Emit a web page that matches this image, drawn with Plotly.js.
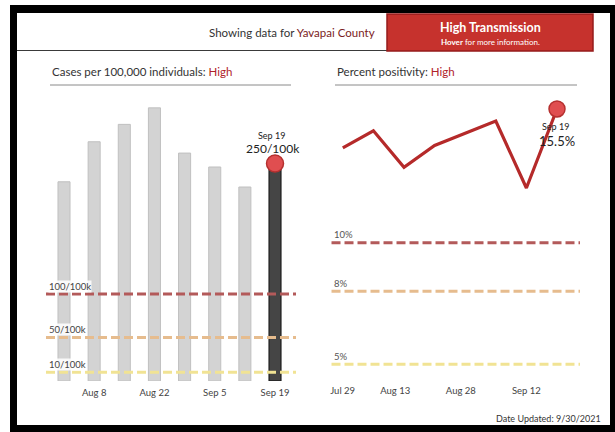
<!DOCTYPE html>
<html>
<head>
<meta charset="utf-8">
<script src="https://cdn.plot.ly/plotly-3.0.1.min.js"></script>
<style>
  html, body { margin: 0; padding: 0; background: #fff; }
  #chart { width: 615px; height: 432px; }
</style>
</head>
<body>
<div id="chart"></div>
<script>
// ---------------- DATA ----------------
const countyName = 'Yavapai County';
const transmissionLevel = 'High Transmission';
const weeks = ['2021-08-01', '2021-08-08', '2021-08-15', '2021-08-22', '2021-08-29', '2021-09-05', '2021-09-12', '2021-09-19'];
const caseRates = [229, 275, 295, 314, 262, 246, 223, 250];
const positivity = [13.9, 14.6, 13.1, 14.0, 14.5, 15.0, 12.25, 15.5];
const caseTickVals = ['2021-08-08', '2021-08-22', '2021-09-05', '2021-09-19'];
const caseTickText = ['Aug 8', 'Aug 22', 'Sep 5', 'Sep 19'];
const posTickVals = ['2021-07-29', '2021-08-13', '2021-08-28', '2021-09-12'];
const posTickText = ['Jul 29', 'Aug 13', 'Aug 28', 'Sep 12'];
const caseThresholds = [100, 50, 10];
const caseThresholdLabels = ['100/100k', '50/100k', '10/100k'];
const posThresholds = [10, 8, 5];
const posThresholdLabels = ['10%', '8%', '5%'];
const lastLabel = 'Sep 19';
const dateUpdated = 'Date Updated: 9/30/2021';

// ---------------- STYLE ----------------
const W = 615, H = 432;
const px = x => x / W;
const py = y => 1 - y / H;
const FONT = 'Lato, "Noto Sans", sans-serif';
const thresholdColors = ['#b35a5a', '#e6bc8e', '#f1e394'];
const DAY = 86400000;

const n = weeks.length;
const barColors = weeks.map((_, i) => i === n - 1 ? '#454545' : '#d3d3d3');
const barLines = weeks.map((_, i) => i === n - 1 ? '#111111' : '#c0c0c0');

const traces = [
  {
    type: 'bar', x: weeks, y: caseRates, xaxis: 'x', yaxis: 'y',
    width: 2.8 * DAY,
    marker: { color: barColors, line: { color: barLines, width: 1 } },
    hoverinfo: 'skip'
  },
  {
    type: 'scatter', mode: 'markers', x: [weeks[n - 1]], y: [caseRates[n - 1]], xaxis: 'x', yaxis: 'y',
    marker: { size: 17, color: '#e04e50', line: { color: '#b5302f', width: 1.5 } },
    hoverinfo: 'skip'
  },
  {
    type: 'scatter', mode: 'lines', x: weeks, y: positivity, xaxis: 'x2', yaxis: 'y2',
    line: { color: '#b52a2a', width: 3.2 },
    hoverinfo: 'skip'
  },
  {
    type: 'scatter', mode: 'markers', x: [weeks[n - 1]], y: [positivity[n - 1]], xaxis: 'x2', yaxis: 'y2',
    marker: { size: 16, color: '#e04e50', line: { color: '#b5302f', width: 1.5 } },
    hoverinfo: 'skip'
  },
  {
    // carrier for the overlay axis holding the (edge-shifted) first positivity tick label
    type: 'scatter', mode: 'markers', x: [posTickVals[0]], y: [null], xaxis: 'x3', yaxis: 'y2',
    marker: { opacity: 0 }, hoverinfo: 'skip'
  }
];

const shapes = [];
const annotations = [];

// frame
const rect = (x0, y0, x1, y1, fill, line, lw) => shapes.push({
  type: 'rect', xref: 'paper', yref: 'paper', x0: px(x0), x1: px(x1), y0: py(y1), y1: py(y0),
  fillcolor: fill, line: { color: line || fill, width: lw || 0 }, layer: 'above'
});
rect(10, 5, 615, 13, '#000');
rect(10, 5, 17, 432, '#000');
rect(610, 5, 615, 432, '#000');
rect(10, 425, 615, 432, '#000');
// header separator
shapes.push({ type: 'line', xref: 'paper', yref: 'paper', x0: px(17), x1: px(387), y0: py(50.5), y1: py(50.5), line: { color: '#3a3a3a', width: 1 } });
// red box
rect(387, 14, 593, 51, '#c6322d', '#951b1b', 1.5);
// title underlines
shapes.push({ type: 'line', xref: 'paper', yref: 'paper', x0: px(50), x1: px(291), y0: py(85), y1: py(85), line: { color: '#8a8a8a', width: 1 } });
shapes.push({ type: 'line', xref: 'paper', yref: 'paper', x0: px(335), x1: px(577), y0: py(85), y1: py(85), line: { color: '#8a8a8a', width: 1 } });

// threshold lines
caseThresholds.forEach((v, i) => {
  shapes.push({ type: 'line', xref: 'x domain', yref: 'y', x0: 0, x1: 1, y0: v, y1: v,
    line: { color: thresholdColors[i], width: 3, dash: '9px,4px' }, layer: 'above' });
  annotations.push({ xref: 'paper', yref: 'y', x: px(48), y: v, yshift: 8, xanchor: 'left', yanchor: 'middle',
    text: caseThresholdLabels[i], showarrow: false, bgcolor: 'rgba(255,255,255,0.85)', borderpad: 0,
    font: { family: FONT, size: 9.5, color: '#444' } });
});
posThresholds.forEach((v, i) => {
  shapes.push({ type: 'line', xref: 'x2 domain', yref: 'y2', x0: 0.008, x1: 1, y0: v, y1: v,
    line: { color: thresholdColors[i], width: 3, dash: '9px,4px' }, layer: 'above' });
  annotations.push({ xref: 'paper', yref: 'y2', x: px(332), y: v, yshift: 8, xanchor: 'left', yanchor: 'middle',
    text: posThresholdLabels[i], showarrow: false,
    font: { family: FONT, size: 9.5, color: '#555' } });
});

// header text
annotations.push({ xref: 'paper', yref: 'paper', x: px(377), y: py(32), xanchor: 'right', yanchor: 'middle', showarrow: false,
  text: 'Showing data for <span style="color:#7b1c1c">' + countyName + '</span>',
  font: { family: FONT, size: 11.5, color: '#333' } });
annotations.push({ xref: 'paper', yref: 'paper', x: px(490), y: py(27), xanchor: 'center', yanchor: 'middle', showarrow: false,
  text: '<b>' + transmissionLevel + '</b>', font: { family: FONT, size: 12.5, color: '#fff' } });
annotations.push({ xref: 'paper', yref: 'paper', x: px(490), y: py(42), xanchor: 'center', yanchor: 'middle', showarrow: false,
  text: '<b>Hover</b> for more information.', font: { family: FONT, size: 8, color: '#fff' } });

// panel titles
annotations.push({ xref: 'paper', yref: 'paper', x: px(50), y: py(72), xanchor: 'left', yanchor: 'middle', showarrow: false,
  text: 'Cases per 100,000 individuals: <span style="color:#b0222a">High</span>',
  font: { family: FONT, size: 11.5, color: '#333' } });
annotations.push({ xref: 'paper', yref: 'paper', x: px(335), y: py(72), xanchor: 'left', yanchor: 'middle', showarrow: false,
  text: 'Percent positivity: <span style="color:#b0222a">High</span>',
  font: { family: FONT, size: 11.5, color: '#333' } });

// last-value labels
annotations.push({ xref: 'x', yref: 'paper', x: weeks[n - 1], xshift: -4, y: py(135), xanchor: 'center', yanchor: 'middle', showarrow: false,
  text: lastLabel, font: { family: FONT, size: 9, color: '#222' } });
annotations.push({ xref: 'x', yref: 'paper', x: weeks[n - 1], xshift: -2, y: py(148), xanchor: 'center', yanchor: 'middle', showarrow: false,
  text: caseRates[n - 1] + '/100k', font: { family: FONT, size: 12, color: '#222' } });
annotations.push({ xref: 'x2', yref: 'paper', x: weeks[n - 1], xshift: -2, y: py(126), xanchor: 'center', yanchor: 'middle', showarrow: false,
  text: lastLabel, font: { family: FONT, size: 9, color: '#222' } });
annotations.push({ xref: 'x2', yref: 'paper', x: weeks[n - 1], y: py(141), xanchor: 'center', yanchor: 'middle', showarrow: false,
  text: positivity[n - 1].toFixed(1) + '%', font: { family: FONT, size: 13, color: '#222' } });

// date updated
annotations.push({ xref: 'paper', yref: 'paper', x: px(603), y: py(418), xanchor: 'right', yanchor: 'middle', showarrow: false,
  text: dateUpdated, font: { family: FONT, size: 9, color: '#333' } });

const axisCommon = {
  showgrid: false, zeroline: false, showline: false, ticks: '', fixedrange: true
};
const tickFont = { family: FONT, size: 9.5, color: '#444' };
const posRange = ['2021-07-28 23:00', '2021-09-24 06:15'];
const posDomain = [px(329.5), px(580)];

const layout = {
  width: W, height: H,
  margin: { l: 0, r: 0, t: 0, b: 0, pad: 0 },
  paper_bgcolor: '#fff', plot_bgcolor: 'rgba(0,0,0,0)',
  showlegend: false, hovermode: false,
  font: { family: FONT, size: 9.5, color: '#444' },
  xaxis: Object.assign({}, axisCommon, {
    type: 'date', domain: [px(46), px(296)], anchor: 'y',
    range: ['2021-07-27 19:40', '2021-09-23 21:00'],
    tickmode: 'array', tickvals: caseTickVals, ticktext: caseTickText,
    tickfont: tickFont, ticklabelstandoff: 4
  }),
  yaxis: Object.assign({}, axisCommon, {
    domain: [py(381), py(90)], anchor: 'x', range: [0, 334.5], showticklabels: false
  }),
  xaxis2: Object.assign({}, axisCommon, {
    type: 'date', domain: posDomain, anchor: 'y2',
    range: posRange,
    tickmode: 'array', tickvals: posTickVals.slice(1), ticktext: posTickText.slice(1),
    tickfont: tickFont, ticklabelstandoff: 8
  }),
  xaxis3: Object.assign({}, axisCommon, {
    type: 'date', domain: posDomain, anchor: 'y2', overlaying: 'x2',
    range: posRange,
    tickmode: 'array', tickvals: posTickVals.slice(0, 1), ticktext: posTickText.slice(0, 1),
    tickfont: tickFont, ticklabelstandoff: 8, ticklabelshift: 13
  }),
  yaxis2: Object.assign({}, axisCommon, {
    domain: [py(375), py(90)], anchor: 'x2', range: [4.556, 16.28], showticklabels: false
  }),
  shapes: shapes,
  annotations: annotations
};

Plotly.newPlot('chart', traces, layout, { displayModeBar: false, staticPlot: true });
</script>
</body>
</html>
